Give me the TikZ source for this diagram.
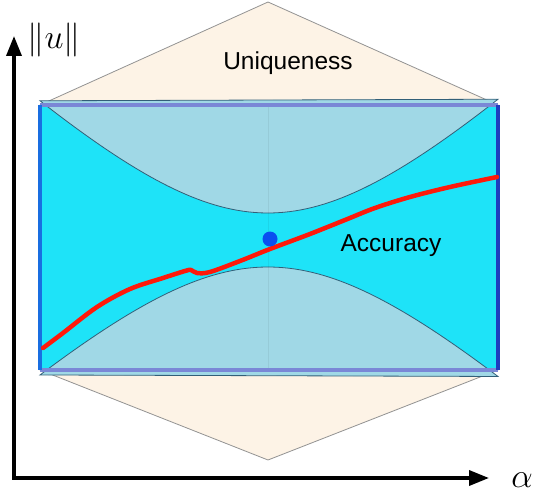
\documentclass[tikz,border=0pt]{standalone}
\usepackage{fontspec}
\setmainfont{Liberation Sans}
\usetikzlibrary{arrows.meta}
\definecolor{beige}{RGB}{253,243,230}
\definecolor{cyanfill}{RGB}{30,227,248}
\definecolor{lensfill}{RGB}{160,216,230}
\definecolor{lensline}{RGB}{50,95,120}
\definecolor{edgetop}{RGB}{122,135,214}
\definecolor{edgeleft}{RGB}{25,110,225}
\definecolor{edgeright}{RGB}{30,60,190}
\definecolor{redcurve}{RGB}{255,25,10}
\definecolor{dotblue}{RGB}{10,80,240}
\tikzset{
  hexshape/.style={fill=beige, draw=gray!85, line width=0.8pt},
  lens/.style={fill=lensfill, draw=lensline, line width=0.8pt},
  axisline/.style={line width=3.5pt, -{Triangle[length=20pt,width=15pt]}},
  label/.style={inner sep=0pt, font=\fontsize{24.5}{28}\selectfont},
  mathlabel/.style={inner sep=0pt, font=\fontsize{24.88}{30}\selectfont, scale=1.37, transform shape},
}
\begin{document}
\begin{tikzpicture}[x=1pt,y=-1pt]
\useasboundingbox (0,0) rectangle (535,497);
% hexagon
\coordinate (ht) at (268,2);
\coordinate (hb) at (268,460);
\coordinate (tl) at (40,105);
\coordinate (tr) at (498,105);
\coordinate (br) at (498,370);
\coordinate (bl) at (40,370);
\draw[hexshape] (ht) -- (tr) -- (br) -- (hb) -- (bl) -- (tl) -- cycle;
% rectangle
\fill[cyanfill] (tl) rectangle (br);
% upper lens
\draw[lens] plot[domain=40:498, samples=80] (\x, {213 - 159*(sqrt(1+((\x-268)/165)^2)-1)}) -- cycle;
% lower lens
\draw[lens] plot[domain=40:498, samples=80] (\x, {267 + 153*(sqrt(1+((\x-268)/165)^2)-1)}) -- cycle;
% faint centre line
\draw[black, opacity=0.06, line width=0.6pt] (268,105) -- (268,370);
% edges
\draw[edgetop, line width=4pt] (tl) -- (tr);
\draw[edgetop, line width=4pt] (bl) -- (br);
\draw[edgeleft, line width=4pt] (tl) -- (bl);
\draw[edgeright, line width=4pt] (tr) -- (br);
% red curve
\draw[redcurve, line width=4.5pt, line cap=round] plot[smooth, tension=0.55] coordinates {
  (43,348) (63,333) (97,307) (130,289) (163,278) (185,271) (191,270) (197,273)
  (210,272) (240,261) (270,249) (310,234) (345,220) (375,208) (410,197) (450,187) (497,177)};
% dot
\fill[dotblue] (270,239) circle (7.5);
% texts
\node[label] (uniq) at (288,63) {Uniqueness};
\node[label] (acc) at (391,246) {Accuracy};
% axes
\coordinate (O) at (14,478);
\coordinate (ytop) at (14,36);
\coordinate (xend) at (489,478);
\draw[axisline] ([yshift=1.75pt]O) -- (ytop);
\draw[axisline] ([xshift=-1.75pt]O) -- (xend);
\node[mathlabel] (ulab) at (54,40) {$\|u\|$};
\node[mathlabel] (alab) at (522,480) {$\alpha$};
\end{tikzpicture}
\end{document}
